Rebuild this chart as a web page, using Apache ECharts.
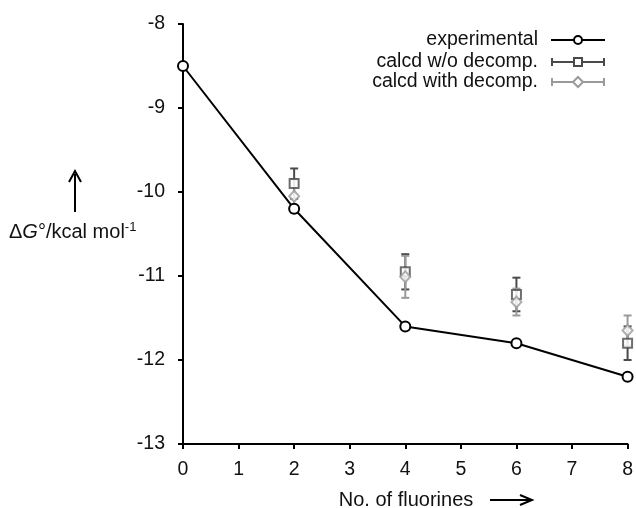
<!DOCTYPE html>
<html><head><meta charset="utf-8">
<script src="https://cdn.jsdelivr.net/npm/echarts@6/dist/echarts.min.js"></script>
<style>html,body{margin:0;padding:0;background:#fff}#c{width:636px;height:508px}</style>
</head><body><div id="c"></div>
<script>
const xTicks = [0,1,2,3,4,5,6,7,8];
const yTicks = [-13,-12,-11,-10,-9,-8];
const expX = [0,2,4,6,8];
const expY = [-8.5,-10.2,-11.6,-11.8,-12.2];
const calcX = [2,4,6,8];
const woY = [-9.9,-10.95,-11.22,-11.8];
const woErr = [0.18,0.21,0.2,0.2];
const withY = [-10.05,-11.01,-11.31,-11.65];
const withErr = [0.2,0.25,0.16,0.18];

const FONT = 'Liberation Sans, Arial, sans-serif';
const DARK = '#4a4a4a', LIGHT = '#9a9a9a';

function errSeries(xs, ys, es, color){
  return {
    type:'custom',
    data: xs.map((x,i)=>[x, ys[i]-es[i], ys[i]+es[i]]),
    renderItem:function(params, api){
      const lo = api.coord([api.value(0), api.value(1)]);
      const hi = api.coord([api.value(0), api.value(2)]);
      const w = 4;
      return {type:'group', children:[
        {type:'line', shape:{x1:lo[0],y1:lo[1],x2:hi[0],y2:hi[1]}, style:{stroke:color,lineWidth:2}},
        {type:'line', shape:{x1:lo[0]-w,y1:lo[1],x2:lo[0]+w,y2:lo[1]}, style:{stroke:color,lineWidth:2}},
        {type:'line', shape:{x1:hi[0]-w,y1:hi[1],x2:hi[0]+w,y2:hi[1]}, style:{stroke:color,lineWidth:2}}
      ]};
    },
    z:2, silent:true
  };
}

const chart = echarts.init(document.getElementById('c'));
const legendRows = [
  {label:'experimental', color:'#000', sym:'circle', caps:false, y:40},
  {label:'calcd w/o decomp.', color:DARK, sym:'rect', caps:true, y:62},
  {label:'calcd with decomp.', color:LIGHT, sym:'diamond', caps:true, y:82}
];
const graphics = [];
legendRows.forEach(r=>{
  graphics.push({type:'text', x:538, y:r.y, style:{text:r.label, font:'19.5px '+FONT, fill:'#111', align:'right', verticalAlign:'middle'}});
  graphics.push({type:'line', shape:{x1:551,y1:r.y,x2:605,y2:r.y}, style:{stroke:r.color,lineWidth:2}});
  if(r.caps){
    graphics.push({type:'line', shape:{x1:552,y1:r.y-4,x2:552,y2:r.y+4}, style:{stroke:r.color,lineWidth:2}});
    graphics.push({type:'line', shape:{x1:604,y1:r.y-4,x2:604,y2:r.y+4}, style:{stroke:r.color,lineWidth:2}});
  }
  if(r.sym==='circle') graphics.push({type:'circle', shape:{cx:578,cy:r.y,r:4}, style:{fill:'#fff',stroke:r.color,lineWidth:2}});
  if(r.sym==='rect') graphics.push({type:'rect', shape:{x:574,y:r.y-4,width:8,height:8}, style:{fill:'#fff',stroke:r.color,lineWidth:2}});
  if(r.sym==='diamond') graphics.push({type:'polygon', shape:{points:[[578,r.y-5],[583,r.y],[578,r.y+5],[573,r.y]]}, style:{fill:'#fff',stroke:r.color,lineWidth:2}});
});
// y axis name with arrow
graphics.push({type:'line', shape:{x1:75,y1:212,x2:75,y2:174}, style:{stroke:'#000',lineWidth:2}});
graphics.push({type:'polyline', shape:{points:[[69,182],[75,171],[81,182]]}, style:{stroke:'#000',lineWidth:2,fill:null}});
graphics.push({type:'text', x:9, y:232, style:{
  verticalAlign:'middle',
  rich:{a:{font:'20px '+FONT,fill:'#111'}, g:{font:'italic 20px '+FONT,fill:'#111'}, s:{font:'13px '+FONT,fill:'#111',verticalAlign:'top',padding:[0,0,10,0]}},
  text:'{a|Δ}{g|G}{a|°/kcal mol}{s|-1}'
}});
// x axis name and arrow
graphics.push({type:'text', x:406, y:500, style:{text:'No. of fluorines', font:'20px '+FONT, fill:'#111', align:'center', verticalAlign:'middle'}});
graphics.push({type:'line', shape:{x1:490,y1:500,x2:530,y2:500}, style:{stroke:'#000',lineWidth:2}});
graphics.push({type:'polyline', shape:{points:[[520,495],[532,500],[520,505]]}, style:{stroke:'#000',lineWidth:2,fill:null}});

chart.setOption({
  animation:false,
  grid:{left:183,right:7,top:24,bottom:64,containLabel:false},
  xAxis:{type:'value',min:xTicks[0],max:xTicks[xTicks.length-1],interval:1,
    axisLine:{lineStyle:{color:'#000',width:2}},
    axisTick:{show:true,length:5,lineStyle:{color:'#000',width:2}},
    axisLabel:{color:'#111',fontSize:19.5,fontFamily:FONT,margin:16},
    splitLine:{show:false}},
  yAxis:{type:'value',min:yTicks[0],max:yTicks[yTicks.length-1],interval:1,
    axisLine:{show:true,lineStyle:{color:'#000',width:2}},
    axisTick:{show:true,length:5,lineStyle:{color:'#000',width:2}},
    axisLabel:{color:'#111',fontSize:19.5,fontFamily:FONT,margin:18},
    splitLine:{show:false}},
  graphic:graphics,
  series:[
    {type:'line', data:expX.map((x,i)=>[x,expY[i]]), symbol:'circle', symbolSize:10,
     lineStyle:{color:'#000',width:2}, itemStyle:{color:'#fff',borderColor:'#000',borderWidth:2}, z:3},
    errSeries(calcX, woY, woErr, DARK),
    errSeries(calcX, withY, withErr, LIGHT),
    {type:'scatter', data:calcX.map((x,i)=>[x,woY[i]]), symbol:'rect', symbolSize:9,
     itemStyle:{color:'#fff',borderColor:DARK,borderWidth:2}, z:4},
    {type:'scatter', data:calcX.map((x,i)=>[x,withY[i]]), symbol:'diamond', symbolSize:[10,11],
     itemStyle:{color:'#fff',borderColor:LIGHT,borderWidth:2}, z:5}
  ]
});
</script></body></html>
